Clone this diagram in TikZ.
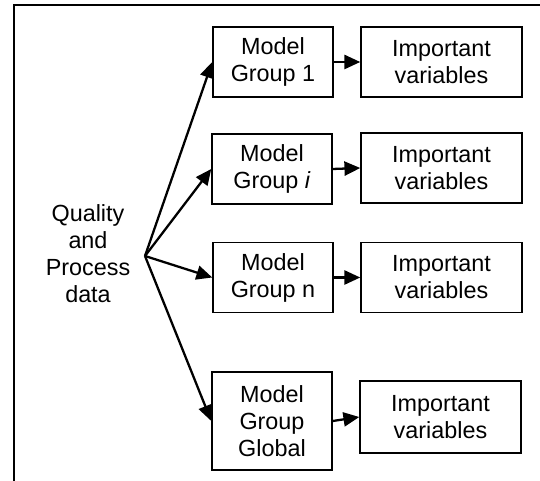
\documentclass[tikz,border=0pt]{standalone}
\usepackage{fontspec}
\setmainfont{Liberation Sans}
\usetikzlibrary{arrows.meta}

\begin{document}
\begin{tikzpicture}[
    >={Triangle[length=9pt, width=8pt]},
    txt/.style={align=center, font=\fontsize{13.3}{15.4}\selectfont},
    box/.style={txt, draw, line width=0.85pt, minimum height=1.4cm, inner sep=1pt},
    model/.style={box, minimum width=2.4cm},
    result/.style={box, minimum width=3.22cm},
    link/.style={->, line width=1.3pt},
]
    \useasboundingbox (0,0) rectangle (10.8,9.62);

    % Frame (open at right and bottom)
    \draw[line width=0.75pt] (0.28,0) |- (10.8,9.52);

    % Input data and the fork point
    \node[txt] (data) at (1.76,4.55) {Quality\\and\\Process\\data};
    \coordinate (fork) at (2.9,4.5);

    % Model groups
    \node[model] (m1) at (5.46,8.38) {Model\\Group 1};
    \node[model] (m2) at (5.44,6.24) {Model\\Group \textit{i}};
    \node[model] (m3) at (5.46,4.07) {Model\\Group n};
    \node[model, minimum height=1.96cm] (m4) at (5.44,1.2) {Model\\Group\\Global};

    % Important variables
    \node[result] (v1) at (8.83,8.38) {Important\\variables};
    \node[result] (v2) at (8.83,6.26) {Important\\variables};
    \node[result] (v3) at (8.83,4.07) {Important\\variables};
    \node[result, minimum height=1.44cm] (v4) at (8.81,1.28) {Important\\variables};

    % Arrows
    \foreach \i in {1,...,4} {
        \draw[link] (fork) -- (m\i.west);
        \draw[link] (m\i.east) -- (v\i.west);
    }
\end{tikzpicture}
\end{document}
